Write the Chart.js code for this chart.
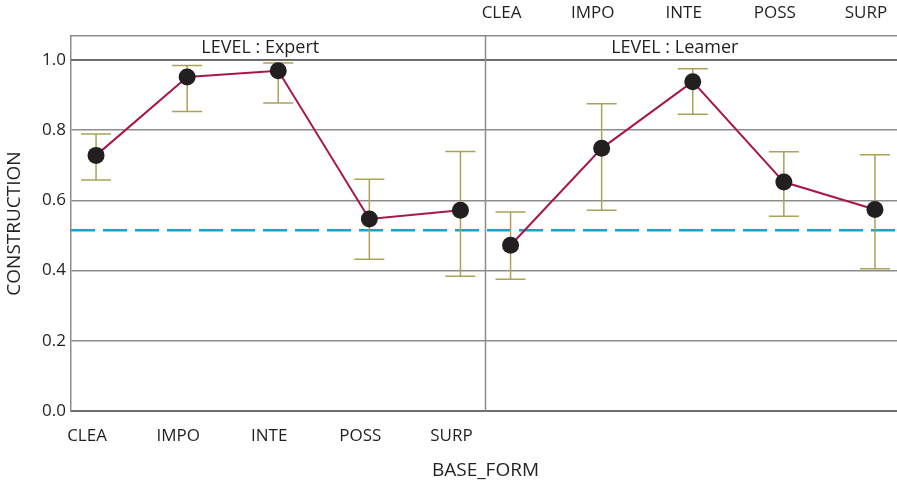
<!DOCTYPE html>
<html>
<head>
<meta charset="utf-8">
<script src="https://cdn.jsdelivr.net/npm/chart.js@4.4.1/dist/chart.umd.min.js"></script>
<style>
  html, body { margin: 0; padding: 0; background: #fff; overflow: hidden; }
  #wrap { width: 897px; height: 482px; overflow: hidden; }
</style>
</head>
<body>
<div id="wrap"><canvas id="chart" width="900" height="482"></canvas></div>
<script>
const categories = ["CLEA", "IMPO", "INTE", "POSS", "SURP"];
const levels = ["Expert", "Leamer"];

// mean and interval per base form, one set per level
const expertMean = [0.728, 0.951, 0.969, 0.547, 0.572];
const expertLow = [0.658, 0.853, 0.877, 0.432, 0.384];
const expertHigh = [0.789, 0.984, 0.991, 0.660, 0.739];

const learnerMean = [0.472, 0.748, 0.938, 0.652, 0.574];
const learnerLow = [0.375, 0.572, 0.845, 0.555, 0.405];
const learnerHigh = [0.567, 0.875, 0.975, 0.738, 0.730];

const overallMean = 0.515;
const yTicks = [0, 0.2, 0.4, 0.6, 0.8, 1.0];

// panel layout along one shared x scale
const margin = 0.275;
const panelShift = 4.55;
const panelSplit = (categories.length - 1 + panelShift) / 2;
const xMin = -margin;
const xMax = panelShift + categories.length - 1 + margin;
const yTop = 1.068;

const font = "'Open Sans', 'DejaVu Sans', sans-serif";
const ink = "#231f20";
const gridGray = "#8c8c8c";

const toPoints = (mean, shift) => mean.map((v, i) => ({ x: i + shift, y: v }));

const panels = [
    { name: levels[0], shift: 0, low: expertLow, high: expertHigh },
    { name: levels[1], shift: panelShift, low: learnerLow, high: learnerHigh }
];

// keep the x scales from reserving room for edge labels
const noSidePad = s => { s.paddingLeft = 0; s.paddingRight = 0; };

const panelPlugin = {
    id: "panels",
    beforeDatasetsDraw(chart) {
        const c = chart.ctx;
        const area = chart.chartArea;
        const x = chart.scales.x;
        const y = chart.scales.y;
        const yOne = y.getPixelForValue(1.0);
        c.save();

        // strip header line
        c.strokeStyle = "#5a5a5a";
        c.lineWidth = 1.5;
        c.beginPath();
        c.moveTo(area.left, yOne);
        c.lineTo(area.right, yOne);
        c.stroke();

        // divider between the two panels
        const xs = x.getPixelForValue(panelSplit);
        c.strokeStyle = gridGray;
        c.lineWidth = 1.5;
        c.beginPath();
        c.moveTo(xs, area.top);
        c.lineTo(xs, area.bottom);
        c.stroke();

        // strip labels
        c.fillStyle = ink;
        c.font = "18px " + font;
        c.textAlign = "center";
        c.textBaseline = "middle";
        const edges = [area.left, xs, area.right];
        panels.forEach((p, k) => {
            const cx = (edges[k] + edges[k + 1]) / 2 - 18;
            c.fillText("LEVEL : " + p.name, cx, (area.top + yOne) / 2);
        });

        // overall mean reference line
        const yr = y.getPixelForValue(overallMean);
        c.strokeStyle = "#12a6cf";
        c.lineWidth = 2.5;
        c.setLineDash([24, 8]);
        c.beginPath();
        c.moveTo(area.left, yr);
        c.lineTo(area.right, yr);
        c.stroke();
        c.setLineDash([]);

        // error bars
        c.strokeStyle = "#a9a257";
        c.lineWidth = 1.5;
        panels.forEach(p => {
            p.low.forEach((lo, i) => {
                const px = x.getPixelForValue(i + p.shift);
                const y1 = y.getPixelForValue(lo);
                const y2 = y.getPixelForValue(p.high[i]);
                c.beginPath();
                c.moveTo(px, y1);
                c.lineTo(px, y2);
                c.moveTo(px - 15, y1);
                c.lineTo(px + 15, y1);
                c.moveTo(px - 15, y2);
                c.lineTo(px + 15, y2);
                c.stroke();
            });
        });
        c.restore();
    }
};

const lineStyle = {
    borderColor: "#a8174a",
    borderWidth: 2,
    pointRadius: 8.5,
    pointBackgroundColor: ink,
    pointBorderWidth: 0,
    pointHoverRadius: 8.5,
    tension: 0
};

const chart = new Chart(document.getElementById("chart"), {
    type: "line",
    data: {
        datasets: [
            Object.assign({ label: levels[0], data: toPoints(expertMean, 0) }, lineStyle),
            Object.assign({ label: levels[1], data: toPoints(learnerMean, panelShift) }, lineStyle)
        ]
    },
    options: {
        responsive: false,
        animation: false,
        layout: { padding: 0, autoPadding: false },
        plugins: { legend: { display: false }, tooltip: { enabled: false } },
        scales: {
            x: {
                type: "linear",
                position: "bottom",
                min: xMin,
                max: xMax,
                afterBuildTicks: s => { s.ticks = categories.map((c, i) => ({ value: i })); },
                afterFit: s => { s.height = 71; noSidePad(s); },
                ticks: {
                    callback: v => categories[Math.round(v)],
                    font: { family: font, size: 17 },
                    color: ink,
                    padding: 7,
                    labelOffset: -9,
                    maxRotation: 0,
                    autoSkip: false
                },
                grid: { display: false },
                border: { display: true, color: "#6e6e6e", width: 2 },
                title: {
                    display: true,
                    text: "BASE_FORM",
                    font: { family: font, size: 19 },
                    color: ink,
                    padding: { top: 0, bottom: 0 }
                }
            },
            x2: {
                type: "linear",
                position: "top",
                min: xMin,
                max: xMax,
                afterBuildTicks: s => { s.ticks = categories.map((c, i) => ({ value: i + panelShift })); },
                afterFit: s => { s.height = 36; noSidePad(s); },
                ticks: {
                    callback: v => categories[Math.round(v - panelShift)],
                    font: { family: font, size: 17 },
                    color: ink,
                    padding: 5,
                    labelOffset: -9,
                    maxRotation: 0,
                    autoSkip: false
                },
                grid: { display: false },
                border: { display: true, color: gridGray, width: 1.5 }
            },
            y: {
                type: "linear",
                min: 0,
                max: yTop,
                afterBuildTicks: s => { s.ticks = yTicks.map(v => ({ value: v })); },
                afterFit: s => { s.width = 71; },
                ticks: {
                    callback: v => v.toFixed(1),
                    font: { family: font, size: 17 },
                    color: ink,
                    padding: 5
                },
                grid: { color: gridGray, lineWidth: 1.5, drawTicks: false },
                border: { display: true, color: gridGray, width: 1.5 },
                title: {
                    display: true,
                    text: "CONSTRUCTION",
                    font: { family: font, size: 19 },
                    color: ink,
                    padding: { top: 3, bottom: 0 }
                }
            }
        }
    },
    plugins: [panelPlugin]
});
</script>
</body>
</html>
